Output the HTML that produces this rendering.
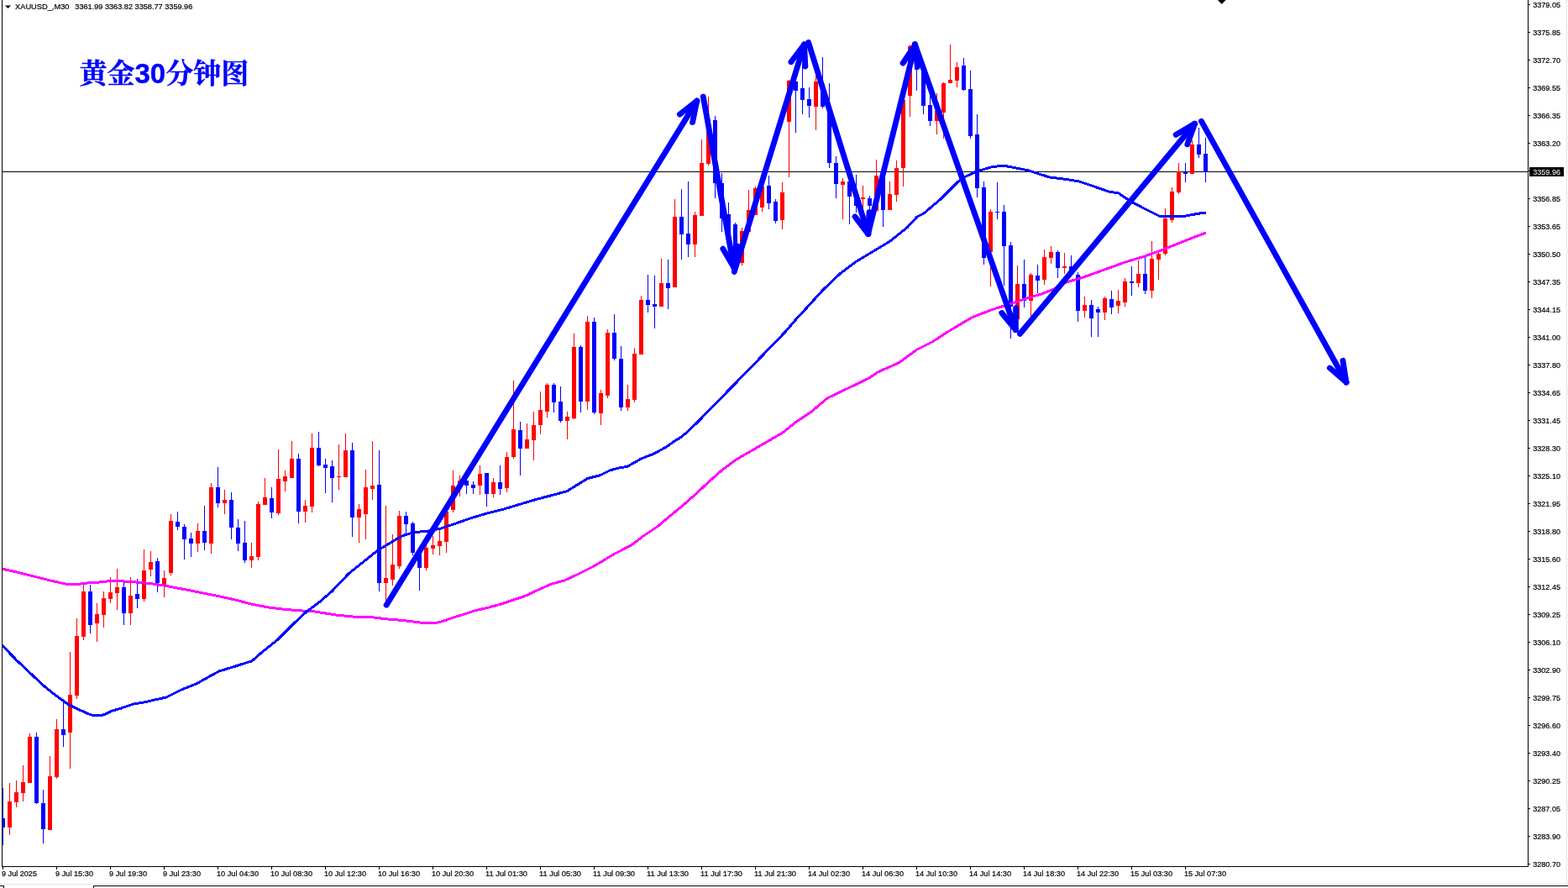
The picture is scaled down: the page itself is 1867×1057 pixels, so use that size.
<!DOCTYPE html>
<html lang="zh"><head><meta charset="utf-8"><title>XAUUSD M30</title>
<style>html,body{margin:0;padding:0;background:#fff;overflow:hidden}body{width:1867px;height:1057px}svg{display:block}text{font-family:"Liberation Sans","Noto Sans CJK SC",sans-serif}.s text{stroke:#000;stroke-width:.22px}</style>
</head><body>
<svg width="1867" height="1057" viewBox="0 0 1867 1057">
<rect x="0" y="0" width="1867" height="1057" fill="#fff"/>
<g shape-rendering="crispEdges" fill="#000">
<rect x="2" y="1031" width="1818" height="1"/>
<rect x="1819" y="0" width="1" height="1032"/>
<rect x="3" y="204" width="1816" height="1"/>
<rect x="1820" y="5" width="2" height="1"/>
<rect x="1820" y="38" width="2" height="1"/>
<rect x="1820" y="71" width="2" height="1"/>
<rect x="1820" y="104" width="2" height="1"/>
<rect x="1820" y="137" width="2" height="1"/>
<rect x="1820" y="170" width="2" height="1"/>
<rect x="1820" y="203" width="2" height="1"/>
<rect x="1820" y="236" width="2" height="1"/>
<rect x="1820" y="269" width="2" height="1"/>
<rect x="1820" y="302" width="2" height="1"/>
<rect x="1820" y="335" width="2" height="1"/>
<rect x="1820" y="368" width="2" height="1"/>
<rect x="1820" y="401" width="2" height="1"/>
<rect x="1820" y="434" width="2" height="1"/>
<rect x="1820" y="467" width="2" height="1"/>
<rect x="1820" y="500" width="2" height="1"/>
<rect x="1820" y="533" width="2" height="1"/>
<rect x="1820" y="566" width="2" height="1"/>
<rect x="1820" y="599" width="2" height="1"/>
<rect x="1820" y="632" width="2" height="1"/>
<rect x="1820" y="665" width="2" height="1"/>
<rect x="1820" y="698" width="2" height="1"/>
<rect x="1820" y="731" width="2" height="1"/>
<rect x="1820" y="764" width="2" height="1"/>
<rect x="1820" y="797" width="2" height="1"/>
<rect x="1820" y="830" width="2" height="1"/>
<rect x="1820" y="863" width="2" height="1"/>
<rect x="1820" y="896" width="2" height="1"/>
<rect x="1820" y="929" width="2" height="1"/>
<rect x="1820" y="962" width="2" height="1"/>
<rect x="1820" y="995" width="2" height="1"/>
<rect x="1820" y="1028" width="2" height="1"/>
<rect x="3" y="1032" width="1" height="3"/>
<rect x="67" y="1032" width="1" height="3"/>
<rect x="131" y="1032" width="1" height="3"/>
<rect x="195" y="1032" width="1" height="3"/>
<rect x="259" y="1032" width="1" height="3"/>
<rect x="323" y="1032" width="1" height="3"/>
<rect x="387" y="1032" width="1" height="3"/>
<rect x="451" y="1032" width="1" height="3"/>
<rect x="515" y="1032" width="1" height="3"/>
<rect x="579" y="1032" width="1" height="3"/>
<rect x="643" y="1032" width="1" height="3"/>
<rect x="707" y="1032" width="1" height="3"/>
<rect x="771" y="1032" width="1" height="3"/>
<rect x="835" y="1032" width="1" height="3"/>
<rect x="899" y="1032" width="1" height="3"/>
<rect x="963" y="1032" width="1" height="3"/>
<rect x="1027" y="1032" width="1" height="3"/>
<rect x="1091" y="1032" width="1" height="3"/>
<rect x="1155" y="1032" width="1" height="3"/>
<rect x="1219" y="1032" width="1" height="3"/>
<rect x="1283" y="1032" width="1" height="3"/>
<rect x="1347" y="1032" width="1" height="3"/>
<rect x="1411" y="1032" width="1" height="3"/>
</g>
<g shape-rendering="crispEdges">
<rect x="1865" y="0" width="1" height="1053" fill="#e3e3e3"/>
<rect x="0" y="1052" width="1866" height="1" fill="#e3e3e3"/>
<rect x="113" y="1056" width="1753" height="1" fill="#ededed"/>
<rect x="0" y="1054" width="5" height="1" fill="#000"/>
<rect x="4" y="1054" width="1" height="3" fill="#000"/>
<rect x="111" y="1054" width="1756" height="1" fill="#000"/>
<rect x="111" y="1054" width="1" height="3" fill="#000"/>
</g>
<g shape-rendering="crispEdges">
<rect x="3" y="938" width="1" height="68" fill="#00f"/>
<rect x="3" y="974" width="3" height="11" fill="#00f"/>
<rect x="11" y="932" width="1" height="62" fill="#f00"/>
<rect x="9" y="954" width="5" height="31" fill="#f00"/>
<rect x="19" y="929" width="1" height="32" fill="#f00"/>
<rect x="17" y="943" width="5" height="12" fill="#f00"/>
<rect x="27" y="911" width="1" height="43" fill="#f00"/>
<rect x="25" y="931" width="5" height="13" fill="#f00"/>
<rect x="35" y="873" width="1" height="59" fill="#f00"/>
<rect x="33" y="877" width="5" height="55" fill="#f00"/>
<rect x="43" y="872" width="1" height="85" fill="#00f"/>
<rect x="41" y="877" width="5" height="79" fill="#00f"/>
<rect x="51" y="940" width="1" height="64" fill="#00f"/>
<rect x="49" y="956" width="5" height="31" fill="#00f"/>
<rect x="59" y="900" width="1" height="88" fill="#f00"/>
<rect x="57" y="924" width="5" height="64" fill="#f00"/>
<rect x="67" y="856" width="1" height="71" fill="#f00"/>
<rect x="65" y="868" width="5" height="57" fill="#f00"/>
<rect x="75" y="836" width="1" height="53" fill="#00f"/>
<rect x="73" y="868" width="5" height="7" fill="#00f"/>
<rect x="83" y="776" width="1" height="139" fill="#f00"/>
<rect x="81" y="827" width="5" height="45" fill="#f00"/>
<rect x="91" y="736" width="1" height="96" fill="#f00"/>
<rect x="89" y="757" width="5" height="71" fill="#f00"/>
<rect x="99" y="696" width="1" height="66" fill="#f00"/>
<rect x="97" y="704" width="5" height="54" fill="#f00"/>
<rect x="107" y="696" width="1" height="58" fill="#00f"/>
<rect x="105" y="704" width="5" height="40" fill="#00f"/>
<rect x="115" y="718" width="1" height="46" fill="#f00"/>
<rect x="113" y="731" width="5" height="11" fill="#f00"/>
<rect x="123" y="704" width="1" height="43" fill="#f00"/>
<rect x="121" y="712" width="5" height="20" fill="#f00"/>
<rect x="131" y="687" width="1" height="31" fill="#f00"/>
<rect x="129" y="705" width="5" height="8" fill="#f00"/>
<rect x="139" y="677" width="1" height="49" fill="#f00"/>
<rect x="137" y="699" width="5" height="7" fill="#f00"/>
<rect x="147" y="693" width="1" height="51" fill="#00f"/>
<rect x="145" y="699" width="5" height="31" fill="#00f"/>
<rect x="155" y="687" width="1" height="57" fill="#f00"/>
<rect x="153" y="709" width="5" height="21" fill="#f00"/>
<rect x="163" y="689" width="1" height="35" fill="#00f"/>
<rect x="161" y="707" width="5" height="6" fill="#00f"/>
<rect x="171" y="654" width="1" height="62" fill="#f00"/>
<rect x="169" y="679" width="5" height="34" fill="#f00"/>
<rect x="179" y="656" width="1" height="30" fill="#f00"/>
<rect x="177" y="669" width="5" height="9" fill="#f00"/>
<rect x="187" y="664" width="1" height="41" fill="#00f"/>
<rect x="185" y="668" width="5" height="26" fill="#00f"/>
<rect x="195" y="679" width="1" height="32" fill="#f00"/>
<rect x="193" y="688" width="5" height="8" fill="#f00"/>
<rect x="203" y="612" width="1" height="73" fill="#f00"/>
<rect x="201" y="620" width="5" height="62" fill="#f00"/>
<rect x="211" y="609" width="1" height="22" fill="#00f"/>
<rect x="209" y="621" width="5" height="6" fill="#00f"/>
<rect x="219" y="624" width="1" height="42" fill="#00f"/>
<rect x="217" y="627" width="5" height="15" fill="#00f"/>
<rect x="227" y="634" width="1" height="29" fill="#00f"/>
<rect x="225" y="641" width="5" height="6" fill="#00f"/>
<rect x="235" y="623" width="1" height="34" fill="#f00"/>
<rect x="233" y="632" width="5" height="15" fill="#f00"/>
<rect x="243" y="602" width="1" height="53" fill="#00f"/>
<rect x="241" y="632" width="5" height="14" fill="#00f"/>
<rect x="251" y="575" width="1" height="84" fill="#f00"/>
<rect x="249" y="580" width="5" height="67" fill="#f00"/>
<rect x="259" y="556" width="1" height="48" fill="#00f"/>
<rect x="257" y="580" width="5" height="19" fill="#00f"/>
<rect x="267" y="583" width="1" height="29" fill="#f00"/>
<rect x="265" y="595" width="5" height="4" fill="#f00"/>
<rect x="275" y="586" width="1" height="56" fill="#00f"/>
<rect x="273" y="595" width="5" height="33" fill="#00f"/>
<rect x="283" y="618" width="1" height="38" fill="#00f"/>
<rect x="281" y="628" width="5" height="19" fill="#00f"/>
<rect x="291" y="620" width="1" height="50" fill="#00f"/>
<rect x="289" y="646" width="5" height="21" fill="#00f"/>
<rect x="299" y="646" width="1" height="30" fill="#f00"/>
<rect x="297" y="662" width="5" height="5" fill="#f00"/>
<rect x="307" y="597" width="1" height="70" fill="#f00"/>
<rect x="305" y="600" width="5" height="63" fill="#f00"/>
<rect x="315" y="569" width="1" height="32" fill="#f00"/>
<rect x="313" y="592" width="5" height="9" fill="#f00"/>
<rect x="323" y="580" width="1" height="37" fill="#00f"/>
<rect x="321" y="593" width="5" height="17" fill="#00f"/>
<rect x="331" y="535" width="1" height="78" fill="#f00"/>
<rect x="329" y="570" width="5" height="41" fill="#f00"/>
<rect x="339" y="560" width="1" height="25" fill="#f00"/>
<rect x="337" y="567" width="5" height="6" fill="#f00"/>
<rect x="347" y="525" width="1" height="44" fill="#f00"/>
<rect x="345" y="546" width="5" height="23" fill="#f00"/>
<rect x="355" y="540" width="1" height="83" fill="#00f"/>
<rect x="353" y="546" width="5" height="63" fill="#00f"/>
<rect x="363" y="595" width="1" height="27" fill="#f00"/>
<rect x="361" y="602" width="5" height="7" fill="#f00"/>
<rect x="371" y="516" width="1" height="94" fill="#f00"/>
<rect x="369" y="533" width="5" height="70" fill="#f00"/>
<rect x="379" y="514" width="1" height="41" fill="#00f"/>
<rect x="377" y="533" width="5" height="21" fill="#00f"/>
<rect x="387" y="546" width="1" height="41" fill="#00f"/>
<rect x="385" y="553" width="5" height="4" fill="#00f"/>
<rect x="395" y="548" width="1" height="50" fill="#00f"/>
<rect x="393" y="555" width="5" height="14" fill="#00f"/>
<rect x="403" y="529" width="1" height="54" fill="#f00"/>
<rect x="401" y="567" width="5" height="1" fill="#f00"/>
<rect x="411" y="516" width="1" height="52" fill="#f00"/>
<rect x="409" y="536" width="5" height="32" fill="#f00"/>
<rect x="419" y="527" width="1" height="112" fill="#00f"/>
<rect x="417" y="536" width="5" height="80" fill="#00f"/>
<rect x="427" y="600" width="1" height="46" fill="#f00"/>
<rect x="425" y="606" width="5" height="10" fill="#f00"/>
<rect x="435" y="559" width="1" height="83" fill="#f00"/>
<rect x="433" y="580" width="5" height="32" fill="#f00"/>
<rect x="443" y="525" width="1" height="70" fill="#f00"/>
<rect x="441" y="578" width="5" height="4" fill="#f00"/>
<rect x="451" y="536" width="1" height="168" fill="#00f"/>
<rect x="449" y="577" width="5" height="117" fill="#00f"/>
<rect x="459" y="602" width="1" height="114" fill="#f00"/>
<rect x="457" y="688" width="5" height="6" fill="#f00"/>
<rect x="467" y="636" width="1" height="61" fill="#f00"/>
<rect x="465" y="672" width="5" height="18" fill="#f00"/>
<rect x="475" y="608" width="1" height="69" fill="#f00"/>
<rect x="473" y="614" width="5" height="60" fill="#f00"/>
<rect x="483" y="609" width="1" height="26" fill="#00f"/>
<rect x="481" y="614" width="5" height="10" fill="#00f"/>
<rect x="491" y="621" width="1" height="40" fill="#00f"/>
<rect x="489" y="623" width="5" height="35" fill="#00f"/>
<rect x="499" y="655" width="1" height="48" fill="#00f"/>
<rect x="497" y="658" width="5" height="18" fill="#00f"/>
<rect x="507" y="637" width="1" height="42" fill="#f00"/>
<rect x="505" y="652" width="5" height="24" fill="#f00"/>
<rect x="515" y="638" width="1" height="22" fill="#f00"/>
<rect x="513" y="649" width="5" height="4" fill="#f00"/>
<rect x="523" y="631" width="1" height="30" fill="#f00"/>
<rect x="521" y="644" width="5" height="6" fill="#f00"/>
<rect x="531" y="600" width="1" height="58" fill="#f00"/>
<rect x="529" y="609" width="5" height="36" fill="#f00"/>
<rect x="539" y="560" width="1" height="50" fill="#f00"/>
<rect x="537" y="578" width="5" height="29" fill="#f00"/>
<rect x="547" y="566" width="1" height="25" fill="#f00"/>
<rect x="545" y="572" width="5" height="8" fill="#f00"/>
<rect x="555" y="565" width="1" height="23" fill="#00f"/>
<rect x="553" y="572" width="5" height="6" fill="#00f"/>
<rect x="563" y="573" width="1" height="15" fill="#00f"/>
<rect x="561" y="577" width="5" height="4" fill="#00f"/>
<rect x="571" y="554" width="1" height="35" fill="#f00"/>
<rect x="569" y="564" width="5" height="14" fill="#f00"/>
<rect x="579" y="563" width="1" height="40" fill="#00f"/>
<rect x="577" y="563" width="5" height="25" fill="#00f"/>
<rect x="587" y="569" width="1" height="23" fill="#f00"/>
<rect x="585" y="574" width="5" height="14" fill="#f00"/>
<rect x="595" y="554" width="1" height="35" fill="#00f"/>
<rect x="593" y="574" width="5" height="8" fill="#00f"/>
<rect x="603" y="538" width="1" height="48" fill="#f00"/>
<rect x="601" y="544" width="5" height="37" fill="#f00"/>
<rect x="611" y="453" width="1" height="93" fill="#f00"/>
<rect x="609" y="511" width="5" height="33" fill="#f00"/>
<rect x="619" y="502" width="1" height="64" fill="#00f"/>
<rect x="617" y="512" width="5" height="22" fill="#00f"/>
<rect x="627" y="504" width="1" height="30" fill="#f00"/>
<rect x="625" y="523" width="5" height="11" fill="#f00"/>
<rect x="635" y="490" width="1" height="58" fill="#f00"/>
<rect x="633" y="506" width="5" height="18" fill="#f00"/>
<rect x="643" y="466" width="1" height="51" fill="#f00"/>
<rect x="641" y="488" width="5" height="18" fill="#f00"/>
<rect x="651" y="456" width="1" height="41" fill="#f00"/>
<rect x="649" y="458" width="5" height="32" fill="#f00"/>
<rect x="659" y="456" width="1" height="35" fill="#00f"/>
<rect x="657" y="458" width="5" height="21" fill="#00f"/>
<rect x="667" y="460" width="1" height="43" fill="#00f"/>
<rect x="665" y="478" width="5" height="23" fill="#00f"/>
<rect x="675" y="490" width="1" height="33" fill="#f00"/>
<rect x="673" y="496" width="5" height="5" fill="#f00"/>
<rect x="683" y="397" width="1" height="102" fill="#f00"/>
<rect x="681" y="413" width="5" height="85" fill="#f00"/>
<rect x="691" y="411" width="1" height="80" fill="#00f"/>
<rect x="689" y="413" width="5" height="65" fill="#00f"/>
<rect x="699" y="376" width="1" height="112" fill="#f00"/>
<rect x="697" y="383" width="5" height="95" fill="#f00"/>
<rect x="707" y="378" width="1" height="115" fill="#00f"/>
<rect x="705" y="383" width="5" height="108" fill="#00f"/>
<rect x="715" y="464" width="1" height="42" fill="#f00"/>
<rect x="713" y="468" width="5" height="24" fill="#f00"/>
<rect x="723" y="392" width="1" height="82" fill="#f00"/>
<rect x="721" y="396" width="5" height="75" fill="#f00"/>
<rect x="731" y="374" width="1" height="55" fill="#00f"/>
<rect x="729" y="396" width="5" height="31" fill="#00f"/>
<rect x="739" y="412" width="1" height="77" fill="#00f"/>
<rect x="737" y="427" width="5" height="58" fill="#00f"/>
<rect x="747" y="458" width="1" height="31" fill="#f00"/>
<rect x="745" y="475" width="5" height="10" fill="#f00"/>
<rect x="755" y="414" width="1" height="65" fill="#f00"/>
<rect x="753" y="421" width="5" height="55" fill="#f00"/>
<rect x="763" y="352" width="1" height="70" fill="#f00"/>
<rect x="761" y="357" width="5" height="65" fill="#f00"/>
<rect x="771" y="327" width="1" height="45" fill="#00f"/>
<rect x="769" y="357" width="5" height="6" fill="#00f"/>
<rect x="779" y="328" width="1" height="63" fill="#00f"/>
<rect x="777" y="362" width="5" height="3" fill="#00f"/>
<rect x="787" y="308" width="1" height="57" fill="#f00"/>
<rect x="785" y="337" width="5" height="28" fill="#f00"/>
<rect x="795" y="309" width="1" height="59" fill="#00f"/>
<rect x="793" y="337" width="5" height="6" fill="#00f"/>
<rect x="803" y="237" width="1" height="105" fill="#f00"/>
<rect x="801" y="258" width="5" height="84" fill="#f00"/>
<rect x="811" y="225" width="1" height="84" fill="#00f"/>
<rect x="809" y="258" width="5" height="21" fill="#00f"/>
<rect x="819" y="216" width="1" height="90" fill="#00f"/>
<rect x="817" y="278" width="5" height="13" fill="#00f"/>
<rect x="827" y="252" width="1" height="54" fill="#f00"/>
<rect x="825" y="256" width="5" height="35" fill="#f00"/>
<rect x="835" y="166" width="1" height="91" fill="#f00"/>
<rect x="833" y="194" width="5" height="63" fill="#f00"/>
<rect x="843" y="115" width="1" height="82" fill="#f00"/>
<rect x="841" y="142" width="5" height="53" fill="#f00"/>
<rect x="851" y="138" width="1" height="98" fill="#00f"/>
<rect x="849" y="143" width="5" height="75" fill="#00f"/>
<rect x="859" y="206" width="1" height="70" fill="#00f"/>
<rect x="857" y="218" width="5" height="42" fill="#00f"/>
<rect x="867" y="241" width="1" height="59" fill="#00f"/>
<rect x="865" y="255" width="5" height="35" fill="#00f"/>
<rect x="875" y="265" width="1" height="53" fill="#00f"/>
<rect x="873" y="267" width="5" height="43" fill="#00f"/>
<rect x="883" y="271" width="1" height="45" fill="#f00"/>
<rect x="881" y="275" width="5" height="38" fill="#f00"/>
<rect x="891" y="226" width="1" height="50" fill="#f00"/>
<rect x="889" y="250" width="5" height="26" fill="#f00"/>
<rect x="899" y="222" width="1" height="34" fill="#f00"/>
<rect x="897" y="224" width="5" height="32" fill="#f00"/>
<rect x="907" y="217" width="1" height="35" fill="#f00"/>
<rect x="905" y="222" width="5" height="25" fill="#f00"/>
<rect x="915" y="209" width="1" height="40" fill="#00f"/>
<rect x="913" y="221" width="5" height="21" fill="#00f"/>
<rect x="923" y="237" width="1" height="29" fill="#00f"/>
<rect x="921" y="240" width="5" height="23" fill="#00f"/>
<rect x="931" y="217" width="1" height="56" fill="#f00"/>
<rect x="929" y="229" width="5" height="33" fill="#f00"/>
<rect x="939" y="95" width="1" height="116" fill="#f00"/>
<rect x="937" y="96" width="5" height="49" fill="#f00"/>
<rect x="947" y="88" width="1" height="70" fill="#00f"/>
<rect x="945" y="97" width="5" height="11" fill="#00f"/>
<rect x="955" y="75" width="1" height="61" fill="#00f"/>
<rect x="953" y="105" width="5" height="14" fill="#00f"/>
<rect x="963" y="104" width="1" height="36" fill="#00f"/>
<rect x="961" y="118" width="5" height="8" fill="#00f"/>
<rect x="971" y="90" width="1" height="65" fill="#f00"/>
<rect x="969" y="97" width="5" height="30" fill="#f00"/>
<rect x="979" y="68" width="1" height="61" fill="#00f"/>
<rect x="977" y="100" width="5" height="27" fill="#00f"/>
<rect x="987" y="99" width="1" height="101" fill="#00f"/>
<rect x="985" y="128" width="5" height="66" fill="#00f"/>
<rect x="995" y="186" width="1" height="50" fill="#00f"/>
<rect x="993" y="194" width="5" height="25" fill="#00f"/>
<rect x="1003" y="212" width="1" height="49" fill="#f00"/>
<rect x="1001" y="216" width="5" height="4" fill="#f00"/>
<rect x="1011" y="210" width="1" height="57" fill="#00f"/>
<rect x="1009" y="216" width="5" height="18" fill="#00f"/>
<rect x="1019" y="208" width="1" height="45" fill="#00f"/>
<rect x="1017" y="232" width="5" height="13" fill="#00f"/>
<rect x="1027" y="221" width="1" height="41" fill="#f00"/>
<rect x="1025" y="235" width="5" height="2" fill="#f00"/>
<rect x="1035" y="233" width="1" height="29" fill="#00f"/>
<rect x="1033" y="236" width="5" height="9" fill="#00f"/>
<rect x="1043" y="190" width="1" height="62" fill="#f00"/>
<rect x="1041" y="209" width="5" height="42" fill="#f00"/>
<rect x="1051" y="205" width="1" height="65" fill="#00f"/>
<rect x="1049" y="210" width="5" height="40" fill="#00f"/>
<rect x="1059" y="216" width="1" height="34" fill="#f00"/>
<rect x="1057" y="231" width="5" height="19" fill="#f00"/>
<rect x="1067" y="191" width="1" height="49" fill="#f00"/>
<rect x="1065" y="200" width="5" height="32" fill="#f00"/>
<rect x="1075" y="115" width="1" height="107" fill="#f00"/>
<rect x="1073" y="119" width="5" height="81" fill="#f00"/>
<rect x="1083" y="53" width="1" height="86" fill="#f00"/>
<rect x="1081" y="55" width="5" height="59" fill="#f00"/>
<rect x="1091" y="52" width="1" height="56" fill="#00f"/>
<rect x="1089" y="60" width="5" height="23" fill="#00f"/>
<rect x="1099" y="80" width="1" height="56" fill="#00f"/>
<rect x="1097" y="83" width="5" height="43" fill="#00f"/>
<rect x="1107" y="110" width="1" height="40" fill="#00f"/>
<rect x="1105" y="125" width="5" height="19" fill="#00f"/>
<rect x="1115" y="111" width="1" height="49" fill="#f00"/>
<rect x="1113" y="132" width="5" height="12" fill="#f00"/>
<rect x="1123" y="98" width="1" height="67" fill="#f00"/>
<rect x="1121" y="99" width="5" height="35" fill="#f00"/>
<rect x="1131" y="53" width="1" height="46" fill="#f00"/>
<rect x="1129" y="95" width="5" height="4" fill="#f00"/>
<rect x="1139" y="74" width="1" height="30" fill="#f00"/>
<rect x="1137" y="80" width="5" height="16" fill="#f00"/>
<rect x="1147" y="69" width="1" height="39" fill="#00f"/>
<rect x="1145" y="78" width="5" height="29" fill="#00f"/>
<rect x="1155" y="84" width="1" height="81" fill="#00f"/>
<rect x="1153" y="106" width="5" height="56" fill="#00f"/>
<rect x="1163" y="136" width="1" height="99" fill="#00f"/>
<rect x="1161" y="160" width="5" height="64" fill="#00f"/>
<rect x="1171" y="216" width="1" height="99" fill="#00f"/>
<rect x="1169" y="223" width="5" height="84" fill="#00f"/>
<rect x="1179" y="249" width="1" height="92" fill="#f00"/>
<rect x="1177" y="252" width="5" height="48" fill="#f00"/>
<rect x="1187" y="217" width="1" height="44" fill="#00f"/>
<rect x="1185" y="252" width="5" height="1" fill="#00f"/>
<rect x="1195" y="244" width="1" height="96" fill="#00f"/>
<rect x="1193" y="252" width="5" height="41" fill="#00f"/>
<rect x="1203" y="288" width="1" height="115" fill="#00f"/>
<rect x="1201" y="292" width="5" height="73" fill="#00f"/>
<rect x="1211" y="316" width="1" height="74" fill="#f00"/>
<rect x="1209" y="338" width="5" height="42" fill="#f00"/>
<rect x="1219" y="309" width="1" height="57" fill="#00f"/>
<rect x="1217" y="338" width="5" height="20" fill="#00f"/>
<rect x="1227" y="325" width="1" height="52" fill="#f00"/>
<rect x="1225" y="327" width="5" height="31" fill="#f00"/>
<rect x="1235" y="315" width="1" height="34" fill="#00f"/>
<rect x="1233" y="328" width="5" height="6" fill="#00f"/>
<rect x="1243" y="297" width="1" height="42" fill="#f00"/>
<rect x="1241" y="306" width="5" height="27" fill="#f00"/>
<rect x="1251" y="293" width="1" height="21" fill="#f00"/>
<rect x="1249" y="300" width="5" height="7" fill="#f00"/>
<rect x="1259" y="298" width="1" height="33" fill="#00f"/>
<rect x="1257" y="300" width="5" height="19" fill="#00f"/>
<rect x="1267" y="301" width="1" height="25" fill="#f00"/>
<rect x="1265" y="317" width="5" height="2" fill="#f00"/>
<rect x="1275" y="304" width="1" height="25" fill="#00f"/>
<rect x="1273" y="317" width="5" height="10" fill="#00f"/>
<rect x="1283" y="324" width="1" height="59" fill="#00f"/>
<rect x="1281" y="327" width="5" height="43" fill="#00f"/>
<rect x="1291" y="353" width="1" height="25" fill="#f00"/>
<rect x="1289" y="363" width="5" height="7" fill="#f00"/>
<rect x="1299" y="357" width="1" height="44" fill="#00f"/>
<rect x="1297" y="363" width="5" height="16" fill="#00f"/>
<rect x="1307" y="365" width="1" height="36" fill="#00f"/>
<rect x="1305" y="368" width="5" height="4" fill="#00f"/>
<rect x="1315" y="353" width="1" height="28" fill="#f00"/>
<rect x="1313" y="355" width="5" height="17" fill="#f00"/>
<rect x="1323" y="346" width="1" height="28" fill="#00f"/>
<rect x="1321" y="356" width="5" height="10" fill="#00f"/>
<rect x="1331" y="345" width="1" height="28" fill="#f00"/>
<rect x="1329" y="358" width="5" height="6" fill="#f00"/>
<rect x="1339" y="331" width="1" height="34" fill="#f00"/>
<rect x="1337" y="335" width="5" height="25" fill="#f00"/>
<rect x="1347" y="317" width="1" height="35" fill="#00f"/>
<rect x="1345" y="335" width="5" height="2" fill="#00f"/>
<rect x="1355" y="310" width="1" height="32" fill="#f00"/>
<rect x="1353" y="326" width="5" height="11" fill="#f00"/>
<rect x="1363" y="304" width="1" height="46" fill="#00f"/>
<rect x="1361" y="326" width="5" height="20" fill="#00f"/>
<rect x="1371" y="287" width="1" height="68" fill="#f00"/>
<rect x="1369" y="308" width="5" height="38" fill="#f00"/>
<rect x="1379" y="298" width="1" height="35" fill="#f00"/>
<rect x="1377" y="302" width="5" height="7" fill="#f00"/>
<rect x="1387" y="248" width="1" height="56" fill="#f00"/>
<rect x="1385" y="260" width="5" height="42" fill="#f00"/>
<rect x="1395" y="223" width="1" height="42" fill="#f00"/>
<rect x="1393" y="228" width="5" height="34" fill="#f00"/>
<rect x="1403" y="194" width="1" height="37" fill="#f00"/>
<rect x="1401" y="204" width="5" height="25" fill="#f00"/>
<rect x="1411" y="194" width="1" height="23" fill="#00f"/>
<rect x="1409" y="205" width="5" height="2" fill="#00f"/>
<rect x="1419" y="167" width="1" height="40" fill="#f00"/>
<rect x="1417" y="172" width="5" height="35" fill="#f00"/>
<rect x="1427" y="152" width="1" height="36" fill="#00f"/>
<rect x="1425" y="172" width="5" height="12" fill="#00f"/>
<rect x="1435" y="164" width="1" height="53" fill="#00f"/>
<rect x="1433" y="183" width="5" height="22" fill="#00f"/>
</g>
<polyline points="2,677 20,681 40,686 60,691 79,695.3 93.5,695.3 107.9,693.5 118.6,693 129.4,691.7 143.8,691.7 161.8,693 179.8,694.7 197.7,697.4 233.7,704.3 260.7,709.7 280,714 300,719.3 320,723 340,725.5 360,727 375,728 400,732 425,734.5 445,735 462,737 480,738.5 490,739.7 500,741 510,741.5 520,741.3 527,739.5 540,735 550,732 565,727 580,723.5 595,719.5 610,714.5 625,709.5 640,702.5 657,695 672,691 685,685 694,680.5 705,675 715,669.3 732,659 751,649.4 766,638 783,626.7 796.3,615.3 811.4,603 826.6,589.8 841.7,575.6 858.7,560.4 875.8,547.5 900,533.5 932,515 948,502 965,491 985,474 1010,462 1035,450 1045,443 1070,432 1092,416 1110,407 1130,394 1157,378 1180,369 1200,362.6 1220,356 1240,350 1255,344 1270,336 1290,330 1315,321 1340,312 1360,306 1380,299 1400,291 1420,283 1436,277" fill="none" stroke="#f0f" stroke-width="3" stroke-linejoin="round" stroke-linecap="butt" shape-rendering="crispEdges"/>
<polyline points="2.5,768 19.8,786 32.4,797.7 50.3,814.8 64.7,826.5 80.9,838.2 93.5,844.5 107.9,850.8 115,852 124,850.8 133,846.3 143.8,843.2 158.2,838.2 172.6,835.8 185.2,832.8 197.7,830.1 215.7,821.1 233.7,813.9 251.7,804 260.7,799 278.6,793.6 300,786.8 310,778 330,762 350,742 365,728 380,717 395,704 415,683 430,671 445,659 450,655 460,649 470,643 480,637.5 490,634.5 500,633 510,632 525,629 540,624 560,617 580,611 600,606 620,600 640,594 660,588.8 675,584.7 699.7,569.5 715,565.6 726,560 736,557.2 747,555.3 764,545.7 777.4,540.6 792.5,532.6 804,524.5 811.4,520 821,511.8 834,499 847.4,485 875,457 907,424 935,395 947,381 960,367 980,345 1000,326 1020,311 1040,299 1060,287 1080,271 1092,258 1100,254 1120,237 1130,227 1140,217 1150,210 1163,204 1180,199 1194,197 1210,200 1225,203 1240,208 1250,211 1270,213.5 1285,216 1300,221 1320,228 1332,230 1345,239 1360,247 1380,257 1395,257.5 1412,257 1425,254.5 1436,253" fill="none" stroke="#00f" stroke-width="3" stroke-linejoin="round" stroke-linecap="butt" shape-rendering="crispEdges"/>
<rect x="2" y="0" width="1" height="1032" fill="#000" shape-rendering="crispEdges"/>
<rect x="0" y="0" width="2" height="1031" fill="#fff" shape-rendering="crispEdges"/>
<g stroke="#00f" stroke-width="6.8" stroke-linecap="round" fill="none">
<line x1="460.1" y1="720.2" x2="829.8" y2="120.1"/>
<line x1="829.8" y1="120.1" x2="824.6" y2="145.6"/>
<line x1="829.8" y1="120.1" x2="809.4" y2="136.2"/>
<line x1="837.3" y1="115.1" x2="873.9" y2="318.6"/>
<line x1="873.9" y1="318.6" x2="860.8" y2="296.1"/>
<line x1="873.9" y1="318.6" x2="878.3" y2="293.0"/>
<line x1="874.3" y1="323.4" x2="957.6" y2="53"/>
<line x1="957.6" y1="53" x2="958.9" y2="79.0"/>
<line x1="957.6" y1="53" x2="941.9" y2="73.7"/>
<line x1="962.6" y1="50.6" x2="1033.8" y2="278.6"/>
<line x1="1033.8" y1="278.6" x2="1018.0" y2="257.9"/>
<line x1="1033.8" y1="278.6" x2="1035.0" y2="252.6"/>
<line x1="1033.6" y1="278.4" x2="1089.6" y2="53.5"/>
<line x1="1089.6" y1="53.5" x2="1092.3" y2="79.4"/>
<line x1="1089.6" y1="53.5" x2="1075.1" y2="75.1"/>
<line x1="1089.3" y1="52.5" x2="1209.3" y2="392.6"/>
<line x1="1209.3" y1="392.6" x2="1192.8" y2="372.5"/>
<line x1="1209.3" y1="392.6" x2="1209.6" y2="366.6"/>
<line x1="1214.5" y1="397.3" x2="1422.6" y2="147.3"/>
<line x1="1422.6" y1="147.3" x2="1413.8" y2="171.8"/>
<line x1="1422.6" y1="147.3" x2="1400.1" y2="160.4"/>
<line x1="1430.4" y1="144.2" x2="1603" y2="455"/>
<line x1="1603" y1="455" x2="1583.4" y2="438.0"/>
<line x1="1603" y1="455" x2="1598.9" y2="429.3"/>
</g>
<polygon points="1450,0 1459.5,0 1454.7,5" fill="#000"/>
<g class="s">
<polygon points="6,6.5 13,6.5 9.5,10" fill="#000"/>
<text x="18" y="11" font-size="9.7" fill="#000" textLength="64.5" lengthAdjust="spacingAndGlyphs">XAUUSD_,M30</text>
<text x="89.3" y="11" font-size="9.7" fill="#000" textLength="140" lengthAdjust="spacingAndGlyphs">3361.99 3363.82 3358.77 3359.96</text>
</g>
<text x="94.5" y="98.7" font-size="33" font-weight="bold" fill="#00f" stroke="#00f" stroke-width="0.4" stroke-linejoin="round" style="font-family:'Liberation Sans','Noto Serif CJK SC',serif">黄金30分钟图</text>
<g class="s">
<text x="1825.2" y="8.5" font-size="9.7" fill="#000" textLength="32.8" lengthAdjust="spacingAndGlyphs">3379.05</text>
<text x="1825.2" y="41.5" font-size="9.7" fill="#000" textLength="32.8" lengthAdjust="spacingAndGlyphs">3375.85</text>
<text x="1825.2" y="74.5" font-size="9.7" fill="#000" textLength="32.8" lengthAdjust="spacingAndGlyphs">3372.70</text>
<text x="1825.2" y="107.5" font-size="9.7" fill="#000" textLength="32.8" lengthAdjust="spacingAndGlyphs">3369.55</text>
<text x="1825.2" y="140.5" font-size="9.7" fill="#000" textLength="32.8" lengthAdjust="spacingAndGlyphs">3366.35</text>
<text x="1825.2" y="173.5" font-size="9.7" fill="#000" textLength="32.8" lengthAdjust="spacingAndGlyphs">3363.20</text>
<text x="1825.2" y="239.5" font-size="9.7" fill="#000" textLength="32.8" lengthAdjust="spacingAndGlyphs">3356.85</text>
<text x="1825.2" y="272.5" font-size="9.7" fill="#000" textLength="32.8" lengthAdjust="spacingAndGlyphs">3353.65</text>
<text x="1825.2" y="305.5" font-size="9.7" fill="#000" textLength="32.8" lengthAdjust="spacingAndGlyphs">3350.50</text>
<text x="1825.2" y="338.5" font-size="9.7" fill="#000" textLength="32.8" lengthAdjust="spacingAndGlyphs">3347.35</text>
<text x="1825.2" y="371.5" font-size="9.7" fill="#000" textLength="32.8" lengthAdjust="spacingAndGlyphs">3344.15</text>
<text x="1825.2" y="404.5" font-size="9.7" fill="#000" textLength="32.8" lengthAdjust="spacingAndGlyphs">3341.00</text>
<text x="1825.2" y="437.5" font-size="9.7" fill="#000" textLength="32.8" lengthAdjust="spacingAndGlyphs">3337.80</text>
<text x="1825.2" y="470.5" font-size="9.7" fill="#000" textLength="32.8" lengthAdjust="spacingAndGlyphs">3334.65</text>
<text x="1825.2" y="503.5" font-size="9.7" fill="#000" textLength="32.8" lengthAdjust="spacingAndGlyphs">3331.45</text>
<text x="1825.2" y="536.5" font-size="9.7" fill="#000" textLength="32.8" lengthAdjust="spacingAndGlyphs">3328.30</text>
<text x="1825.2" y="569.5" font-size="9.7" fill="#000" textLength="32.8" lengthAdjust="spacingAndGlyphs">3325.10</text>
<text x="1825.2" y="602.5" font-size="9.7" fill="#000" textLength="32.8" lengthAdjust="spacingAndGlyphs">3321.95</text>
<text x="1825.2" y="635.5" font-size="9.7" fill="#000" textLength="32.8" lengthAdjust="spacingAndGlyphs">3318.80</text>
<text x="1825.2" y="668.5" font-size="9.7" fill="#000" textLength="32.8" lengthAdjust="spacingAndGlyphs">3315.60</text>
<text x="1825.2" y="701.5" font-size="9.7" fill="#000" textLength="32.8" lengthAdjust="spacingAndGlyphs">3312.45</text>
<text x="1825.2" y="734.5" font-size="9.7" fill="#000" textLength="32.8" lengthAdjust="spacingAndGlyphs">3309.25</text>
<text x="1825.2" y="767.5" font-size="9.7" fill="#000" textLength="32.8" lengthAdjust="spacingAndGlyphs">3306.10</text>
<text x="1825.2" y="800.5" font-size="9.7" fill="#000" textLength="32.8" lengthAdjust="spacingAndGlyphs">3302.90</text>
<text x="1825.2" y="833.5" font-size="9.7" fill="#000" textLength="32.8" lengthAdjust="spacingAndGlyphs">3299.75</text>
<text x="1825.2" y="866.5" font-size="9.7" fill="#000" textLength="32.8" lengthAdjust="spacingAndGlyphs">3296.60</text>
<text x="1825.2" y="899.5" font-size="9.7" fill="#000" textLength="32.8" lengthAdjust="spacingAndGlyphs">3293.40</text>
<text x="1825.2" y="932.5" font-size="9.7" fill="#000" textLength="32.8" lengthAdjust="spacingAndGlyphs">3290.25</text>
<text x="1825.2" y="965.5" font-size="9.7" fill="#000" textLength="32.8" lengthAdjust="spacingAndGlyphs">3287.05</text>
<text x="1825.2" y="998.5" font-size="9.7" fill="#000" textLength="32.8" lengthAdjust="spacingAndGlyphs">3283.90</text>
<text x="1825.2" y="1031.5" font-size="9.7" fill="#000" textLength="32.8" lengthAdjust="spacingAndGlyphs">3280.70</text>
</g>
<rect x="1821" y="199" width="41" height="11" fill="#000" shape-rendering="crispEdges"/>
<text x="1825.2" y="207.7" font-size="9.7" fill="#fff" textLength="32.8" lengthAdjust="spacingAndGlyphs">3359.96</text>
<g class="s">
<text x="2" y="1043.4" font-size="9.7" fill="#000" textLength="42" lengthAdjust="spacingAndGlyphs">9 Jul 2025</text>
<text x="66" y="1043.4" font-size="9.7" fill="#000" textLength="45" lengthAdjust="spacingAndGlyphs">9 Jul 15:30</text>
<text x="130" y="1043.4" font-size="9.7" fill="#000" textLength="45" lengthAdjust="spacingAndGlyphs">9 Jul 19:30</text>
<text x="194" y="1043.4" font-size="9.7" fill="#000" textLength="45" lengthAdjust="spacingAndGlyphs">9 Jul 23:30</text>
<text x="258" y="1043.4" font-size="9.7" fill="#000" textLength="50" lengthAdjust="spacingAndGlyphs">10 Jul 04:30</text>
<text x="322" y="1043.4" font-size="9.7" fill="#000" textLength="50" lengthAdjust="spacingAndGlyphs">10 Jul 08:30</text>
<text x="386" y="1043.4" font-size="9.7" fill="#000" textLength="50" lengthAdjust="spacingAndGlyphs">10 Jul 12:30</text>
<text x="450" y="1043.4" font-size="9.7" fill="#000" textLength="50" lengthAdjust="spacingAndGlyphs">10 Jul 16:30</text>
<text x="514" y="1043.4" font-size="9.7" fill="#000" textLength="50" lengthAdjust="spacingAndGlyphs">10 Jul 20:30</text>
<text x="578" y="1043.4" font-size="9.7" fill="#000" textLength="50" lengthAdjust="spacingAndGlyphs">11 Jul 01:30</text>
<text x="642" y="1043.4" font-size="9.7" fill="#000" textLength="50" lengthAdjust="spacingAndGlyphs">11 Jul 05:30</text>
<text x="706" y="1043.4" font-size="9.7" fill="#000" textLength="50" lengthAdjust="spacingAndGlyphs">11 Jul 09:30</text>
<text x="770" y="1043.4" font-size="9.7" fill="#000" textLength="50" lengthAdjust="spacingAndGlyphs">11 Jul 13:30</text>
<text x="834" y="1043.4" font-size="9.7" fill="#000" textLength="50" lengthAdjust="spacingAndGlyphs">11 Jul 17:30</text>
<text x="898" y="1043.4" font-size="9.7" fill="#000" textLength="50" lengthAdjust="spacingAndGlyphs">11 Jul 21:30</text>
<text x="962" y="1043.4" font-size="9.7" fill="#000" textLength="50" lengthAdjust="spacingAndGlyphs">14 Jul 02:30</text>
<text x="1026" y="1043.4" font-size="9.7" fill="#000" textLength="50" lengthAdjust="spacingAndGlyphs">14 Jul 06:30</text>
<text x="1090" y="1043.4" font-size="9.7" fill="#000" textLength="50" lengthAdjust="spacingAndGlyphs">14 Jul 10:30</text>
<text x="1154" y="1043.4" font-size="9.7" fill="#000" textLength="50" lengthAdjust="spacingAndGlyphs">14 Jul 14:30</text>
<text x="1218" y="1043.4" font-size="9.7" fill="#000" textLength="50" lengthAdjust="spacingAndGlyphs">14 Jul 18:30</text>
<text x="1282" y="1043.4" font-size="9.7" fill="#000" textLength="50" lengthAdjust="spacingAndGlyphs">14 Jul 22:30</text>
<text x="1346" y="1043.4" font-size="9.7" fill="#000" textLength="50" lengthAdjust="spacingAndGlyphs">15 Jul 03:30</text>
<text x="1410" y="1043.4" font-size="9.7" fill="#000" textLength="50" lengthAdjust="spacingAndGlyphs">15 Jul 07:30</text>
</g>
</svg>
</body></html>
